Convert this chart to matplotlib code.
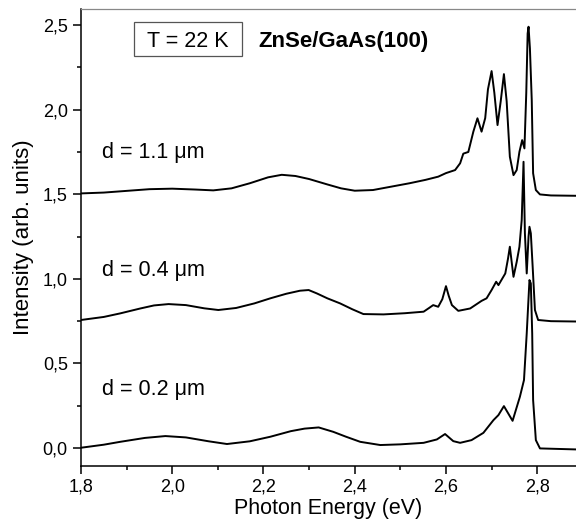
import matplotlib
matplotlib.use("Agg")
import matplotlib.pyplot as plt
from matplotlib.ticker import MultipleLocator, FuncFormatter
from matplotlib.patches import Rectangle

plt.rcParams['font.family'] = ['Liberation Sans', 'DejaVu Sans']

# d = 1.1 um spectrum
e_11 = [1.80, 1.85, 1.90, 1.95, 2.00, 2.05, 2.09, 2.13, 2.17, 2.21, 2.24, 2.27,
        2.30, 2.34, 2.37, 2.40, 2.44, 2.48, 2.52, 2.555, 2.583, 2.600, 2.620,
        2.631, 2.638, 2.649, 2.660, 2.669, 2.678, 2.686, 2.692, 2.700, 2.706,
        2.713, 2.720, 2.727, 2.733, 2.740, 2.748, 2.755, 2.761, 2.767, 2.772,
        2.776, 2.779, 2.781, 2.784, 2.788, 2.791, 2.797, 2.806, 2.83, 2.885]
i_11 = [1.505, 1.510, 1.520, 1.530, 1.533, 1.528, 1.523, 1.535, 1.565, 1.600,
        1.615, 1.608, 1.590, 1.558, 1.535, 1.521, 1.525, 1.545, 1.565, 1.585,
        1.604, 1.625, 1.643, 1.683, 1.740, 1.750, 1.870, 1.949, 1.870, 1.950,
        2.120, 2.228, 2.100, 1.909, 2.050, 2.210, 2.050, 1.722, 1.613, 1.643,
        1.751, 1.820, 1.771, 2.100, 2.450, 2.490, 2.362, 2.057, 1.624, 1.525,
        1.499, 1.493, 1.491]

# d = 0.4 um spectrum
e_04 = [1.80, 1.85, 1.886, 1.93, 1.96, 1.992, 2.03, 2.07, 2.101, 2.14, 2.18,
        2.215, 2.25, 2.28, 2.299, 2.317, 2.34, 2.368, 2.395, 2.419, 2.463, 2.51,
        2.551, 2.563, 2.572, 2.583, 2.592, 2.600, 2.606, 2.613, 2.627, 2.653,
        2.678, 2.689, 2.700, 2.710, 2.715, 2.730, 2.736, 2.740, 2.744, 2.748,
        2.755, 2.761, 2.766, 2.770, 2.773, 2.777, 2.781, 2.783, 2.786, 2.790,
        2.795, 2.802, 2.83, 2.885]
i_04 = [0.757, 0.775, 0.796, 0.825, 0.843, 0.851, 0.845, 0.826, 0.816, 0.828,
        0.855, 0.885, 0.912, 0.930, 0.934, 0.914, 0.885, 0.855, 0.820, 0.792,
        0.790, 0.797, 0.806, 0.828, 0.845, 0.835, 0.880, 0.957, 0.900, 0.845,
        0.811, 0.825, 0.870, 0.885, 0.934, 0.983, 0.963, 1.032, 1.120, 1.190,
        1.100, 1.012, 1.100, 1.190, 1.348, 1.692, 1.269, 1.032, 1.250, 1.308,
        1.269, 1.072, 0.816, 0.757, 0.750, 0.748]

# d = 0.2 um spectrum
e_02 = [1.80, 1.85, 1.886, 1.94, 1.985, 2.03, 2.08, 2.12, 2.17, 2.215, 2.26,
        2.29, 2.321, 2.353, 2.38, 2.412, 2.456, 2.50, 2.551, 2.580, 2.598, 2.616,
        2.631, 2.656, 2.682, 2.704, 2.715, 2.727, 2.746, 2.762, 2.771, 2.777,
        2.783, 2.786, 2.789, 2.791, 2.797, 2.806, 2.885]
i_02 = [0.002, 0.020, 0.037, 0.060, 0.071, 0.063, 0.040, 0.024, 0.040, 0.067,
        0.100, 0.115, 0.122, 0.096, 0.068, 0.037, 0.018, 0.022, 0.031, 0.051,
        0.083, 0.041, 0.031, 0.047, 0.090, 0.165, 0.195, 0.248, 0.161, 0.303,
        0.402, 0.678, 0.993, 0.973, 0.678, 0.284, 0.047, -0.002, -0.008]

labels = ["d = 1.1 \u03bcm", "d = 0.4 \u03bcm", "d = 0.2 \u03bcm"]
label_y = [1.712, 1.017, 0.313]

fig = plt.figure(figsize=(5.76, 5.28), dpi=100)
ax = fig.add_axes([0.1406, 0.1174, 0.8594, 0.8656])

for e, i in [(e_11, i_11), (e_04, i_04), (e_02, i_02)]:
    ax.plot(e, i, color='black', lw=1.4, solid_joinstyle='round')

for lab, y in zip(labels, label_y):
    ax.text(1.846, y, lab, fontsize=15.5, va='baseline', ha='left')

# boxed temperature label
ax.add_patch(Rectangle((1.917, 2.319), 0.237, 0.201, fill=False,
                       ec='#555555', lw=0.9))
ax.text(2.035, 2.368, "T = 22 K", fontsize=15.5, ha='center', va='baseline')
ax.text(2.189, 2.368, "ZnSe/GaAs(100)", fontsize=16, fontweight='bold',
        ha='left', va='baseline')

ax.set_xlim(1.8, 2.885)
ax.set_ylim(-0.106, 2.595)
ax.xaxis.set_major_locator(MultipleLocator(0.2))
ax.xaxis.set_minor_locator(MultipleLocator(0.1))
ax.yaxis.set_major_locator(MultipleLocator(0.5))
ax.yaxis.set_minor_locator(MultipleLocator(0.25))
comma = FuncFormatter(lambda v, p: ("%.1f" % v).replace('.', ','))
ax.xaxis.set_major_formatter(comma)
ax.yaxis.set_major_formatter(comma)
ax.tick_params(which='major', direction='out', length=5.5, width=1.1, labelsize=13)
ax.tick_params(which='minor', direction='out', length=3, width=1.1)
ax.tick_params(axis='y', which='major', pad=4)
ax.tick_params(top=False, right=False)

ax.spines['right'].set_visible(False)
ax.spines['top'].set_color('#888888')
ax.spines['top'].set_linewidth(0.9)
ax.spines['left'].set_linewidth(1.1)
ax.spines['bottom'].set_linewidth(1.1)

ax.set_xlabel("Photon Energy (eV)", fontsize=15.5, labelpad=2)
ax.set_ylabel("Intensity (arb. units)", fontsize=16, labelpad=6)

fig.savefig("out.png", dpi=100)
